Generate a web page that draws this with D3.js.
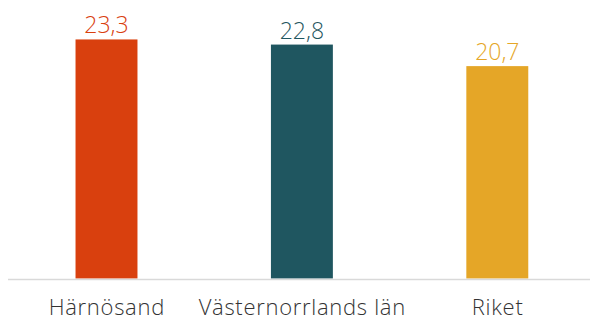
<!DOCTYPE html>
<html>
<head>
<meta charset="utf-8">
<script src="https://cdn.jsdelivr.net/npm/d3@7"></script>
<style>
  html, body { margin: 0; padding: 0; background: #fff; }
  svg { display: block; }
</style>
</head>
<body>
<svg id="chart" width="590" height="320"></svg>
<script>
const categories = ["Härnösand", "Västernorrlands län", "Riket"];
const values = [23.3, 22.8, 20.7];
const valueLabels = ["23,3", "22,8", "20,7"];
const colors = ["#D9400E", "#1F5660", "#E5A627"];

const svg = d3.select("#chart");
const baseY = 278.5;

const x = d3.scaleBand()
  .domain(categories)
  .range([8.8, 595])
  .paddingInner(0.683)
  .paddingOuter(0.3415);

const y = d3.scaleLinear()
  .domain([0, 27.1])
  .range([baseY, baseY - 27.1 * 10.26]);

const data = categories.map((c, i) => ({ c, v: values[i], label: valueLabels[i], color: colors[i] }));

svg.selectAll("rect.bar")
  .data(data)
  .join("rect")
  .attr("class", "bar")
  .attr("x", d => x(d.c))
  .attr("width", x.bandwidth())
  .attr("y", d => y(d.v))
  .attr("height", d => y(0) - y(d.v))
  .attr("fill", d => d.color);

// baseline
svg.append("line")
  .attr("x1", 8).attr("x2", 590)
  .attr("y1", baseY + 1).attr("y2", baseY + 1)
  .attr("stroke", "#d9d9d9")
  .attr("stroke-width", 1.5);

svg.selectAll("text.val")
  .data(data)
  .join("text")
  .attr("class", "val")
  .attr("x", d => x(d.c) + x.bandwidth() / 2)
  .attr("y", d => y(d.v) - 6)
  .attr("text-anchor", "middle")
  .attr("font-family", "'Open Sans', sans-serif")
  .attr("font-weight", 300)
  .attr("font-size", 23)
  .attr("fill", d => d.color)
  .text(d => d.label);

const catSpacing = 0.7;
svg.selectAll("text.cat")
  .data(data)
  .join("text")
  .attr("class", "cat")
  .attr("x", d => x(d.c) + x.bandwidth() / 2 + catSpacing / 2)
  .attr("y", 315)
  .attr("text-anchor", "middle")
  .attr("font-family", "'Open Sans', sans-serif")
  .attr("font-weight", 300)
  .attr("font-size", 22)
  .attr("letter-spacing", catSpacing)
  .attr("fill", "#333333")
  .text(d => d.c);
</script>
</body>
</html>
